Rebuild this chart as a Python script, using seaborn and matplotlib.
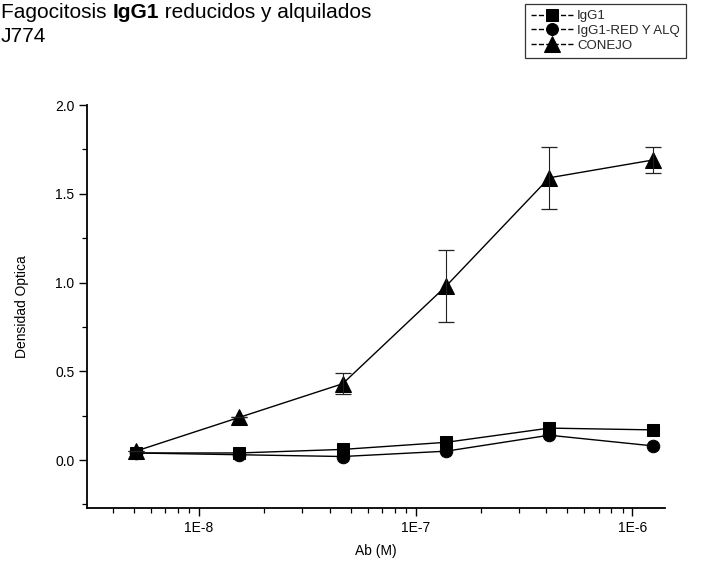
import numpy as np
import pandas as pd
import matplotlib
matplotlib.use("Agg")
import matplotlib.pyplot as plt
import seaborn as sns
from matplotlib.ticker import LogLocator, FixedLocator, MultipleLocator, NullFormatter

# ---- data ----
conc = [5.1e-9, 1.53e-8, 4.6e-8, 1.38e-7, 4.13e-7, 1.24e-6]
igg1 = [0.04, 0.04, 0.06, 0.10, 0.18, 0.17]
igg1_red = [0.04, 0.03, 0.02, 0.05, 0.14, 0.08]
conejo = [0.05, 0.24, 0.43, 0.98, 1.59, 1.69]
conejo_err = [0.0, 0.0, 0.06, 0.205, 0.175, 0.075]
series_names = ["IgG1", "IgG1-RED Y ALQ", "CONEJO"]
x_ticks = [1e-8, 1e-7, 1e-6]
x_tick_labels = ["1E-8", "1E-7", "1E-6"]
y_ticks = [0.0, 0.5, 1.0, 1.5, 2.0]
y_tick_labels = ["0.0", "0.5", "1.0", "1.5", "2.0"]
title_parts = ["Fagocitosis ", "IgG1", " reducidos y alquilados"]
title_line2 = "J774"
x_label = "Ab (M)"
y_label = "Densidad Optica"

sns.set_theme(style="ticks")
plt.rcParams["font.family"] = ["Liberation Sans", "DejaVu Sans"]

W, H = 711, 575
fig = plt.figure(figsize=(W / 100, H / 100), dpi=100)
fig.patch.set_facecolor("white")
ax = fig.add_axes([87 / W, 1 - 508 / H, (665 - 87) / W, (508 - 105) / H])
ax.set_facecolor("white")

values = [igg1, igg1_red, conejo]
markers = ["s", "o", "^"]
msizes = [8.5, 9, 12]
for name, vals, mk, ms in zip(series_names, values, markers, msizes):
    d = pd.DataFrame({"conc": conc, "od": vals})
    sns.lineplot(data=d, x="conc", y="od", ax=ax, color="black", linewidth=1.0,
                 marker=mk, markersize=ms, markeredgecolor="black",
                 markerfacecolor="black", label=name, legend=False)

ax.errorbar(conc, conejo, yerr=conejo_err, fmt="none", ecolor="#222222",
            elinewidth=0.8, capsize=6, capthick=0.9, linestyle=":")

ax.set_xscale("log")
ax.set_xlim(10 ** -8.517, 10 ** -5.85)
ax.set_ylim(-0.27, 2.0)
ax.xaxis.set_major_locator(FixedLocator(x_ticks))
ax.set_xticklabels(x_tick_labels)
ax.xaxis.set_minor_locator(LogLocator(base=10, subs=np.arange(2, 10)))
ax.xaxis.set_minor_formatter(NullFormatter())
ax.yaxis.set_major_locator(FixedLocator(y_ticks))
ax.set_yticklabels(y_tick_labels)
ax.yaxis.set_minor_locator(MultipleLocator(0.25))

for s in ["top", "right"]:
    ax.spines[s].set_visible(False)
for s in ["left", "bottom"]:
    ax.spines[s].set_color("black")
    ax.spines[s].set_linewidth(1.3)
ax.tick_params(axis="both", which="major", direction="out", length=6, width=1,
               colors="black", labelsize=10, pad=3)
ax.tick_params(axis="both", which="minor", direction="out", length=3.5, width=0.9,
               colors="black")

ax.set_xlabel(x_label, fontsize=10, labelpad=7, color="black")
ax.set_ylabel(y_label, fontsize=10, labelpad=19, color="black")

# legend box at the top right of the figure
leg = ax.legend(loc="upper left", bbox_to_anchor=(525 / W, 1 - 4 / H),
                bbox_transform=fig.transFigure, frameon=True, fancybox=False,
                edgecolor="black", fontsize=9.5, handlelength=3.2, borderpad=0.45,
                labelspacing=0.2, handletextpad=0.3, borderaxespad=0,
                markerscale=0.95)
leg.get_frame().set_linewidth(0.9)
for line in leg.get_lines():
    line.set_linestyle("--")
    line.set_linewidth(1.0)

# title with bold "IgG1"
fig.canvas.draw()
renderer = fig.canvas.get_renderer()
x0 = 1 / W
ytop = 1 - 3 / H
fs = 15
t1 = fig.text(x0, ytop, title_parts[0], fontsize=fs, va="top", ha="left", color="black")
bb = t1.get_window_extent(renderer=renderer)
t2 = fig.text(bb.x1 / W, ytop, title_parts[1], fontsize=fs, va="top", ha="left",
              fontweight="bold", color="black")
bb2 = t2.get_window_extent(renderer=renderer)
fig.text(bb2.x1 / W, ytop, title_parts[2], fontsize=fs, va="top", ha="left", color="black")
fig.text(1 / W, 1 - 27 / H, title_line2, fontsize=fs, va="top", ha="left", color="black")

fig.savefig("out.png", dpi=100, facecolor="white")
